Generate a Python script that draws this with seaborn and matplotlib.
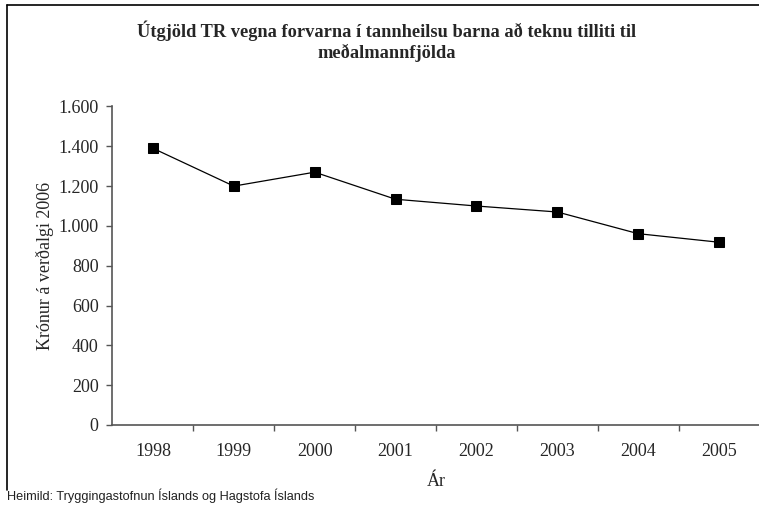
import matplotlib
matplotlib.use("Agg")
import matplotlib.pyplot as plt
import seaborn as sns
import pandas as pd

# Annual dental-prevention spending per average population (ISK, 2006 prices)
years = ["1998", "1999", "2000", "2001", "2002", "2003", "2004", "2005"]
kronur = [1390, 1200, 1270, 1134, 1100, 1070, 961, 918]

title = "Útgjöld TR vegna forvarna í tannheilsu barna að teknu tilliti til\nmeðalmannfjölda"
y_label = "Krónur á verðalgi 2006"
x_label = "Ár"
source = "Heimild: Tryggingastofnun Íslands og Hagstofa Íslands"
y_ticks = [0, 200, 400, 600, 800, 1000, 1200, 1400, 1600]

df = pd.DataFrame({"Ár": years, "Krónur": kronur})

sns.set_theme(style="white")
serif = ["Liberation Serif", "DejaVu Serif"]
plt.rcParams["font.family"] = serif

fig = plt.figure(figsize=(7.59, 5.08), dpi=100)
ax = fig.add_axes([0.1482, 0.1634, 0.8525, 0.627])

sns.lineplot(data=df, x="Ár", y="Krónur", ax=ax, color="black", linewidth=0.9,
             marker="s", markersize=6.5, markeredgecolor="black",
             markerfacecolor="black", sort=False)

ax.set_ylim(0, 1600)
ax.set_xlim(-0.5, len(years) - 0.5)
ax.set_yticks(y_ticks)
ax.set_yticklabels([f"{v:,}".replace(",", ".") for v in y_ticks], fontsize=13)
ax.set_xticks(range(len(years)))
ax.set_xticklabels(years, fontsize=13)
# category boundary ticks along the x axis
ax.set_xticks([i + 0.5 for i in range(len(years) - 1)], minor=True)
ax.tick_params(axis="x", which="major", length=0, pad=13)
ax.tick_params(axis="x", which="minor", length=4, width=1, color="#555555",
               direction="out", bottom=True)
ax.tick_params(axis="y", length=4, width=1, color="#555555", direction="out",
               left=True, pad=6)

for side in ["top", "right"]:
    ax.spines[side].set_visible(False)
for side in ["left", "bottom"]:
    ax.spines[side].set_color("#555555")
    ax.spines[side].set_linewidth(1.2)

ax.set_xlabel(x_label, fontsize=13, labelpad=9)
ax.set_ylabel(y_label, fontsize=13, labelpad=3)
ax.grid(False)

fig.text(0.509, 0.919, title, ha="center", va="center", fontsize=13.2,
         fontweight="bold", linespacing=1.25)
fig.text(0.009, 0.016, source, ha="left", va="baseline", fontsize=9.2,
         family=["Liberation Sans", "DejaVu Sans"], color="#222222")

# outer frame on left and top
fig.add_artist(plt.Line2D([0.0092, 0.0092], [0.035, 0.99], color="black",
                          linewidth=1.2, transform=fig.transFigure))
fig.add_artist(plt.Line2D([0.0092, 1.0], [0.99, 0.99], color="black",
                          linewidth=1.2, transform=fig.transFigure))

fig.savefig("out.png", dpi=100)
